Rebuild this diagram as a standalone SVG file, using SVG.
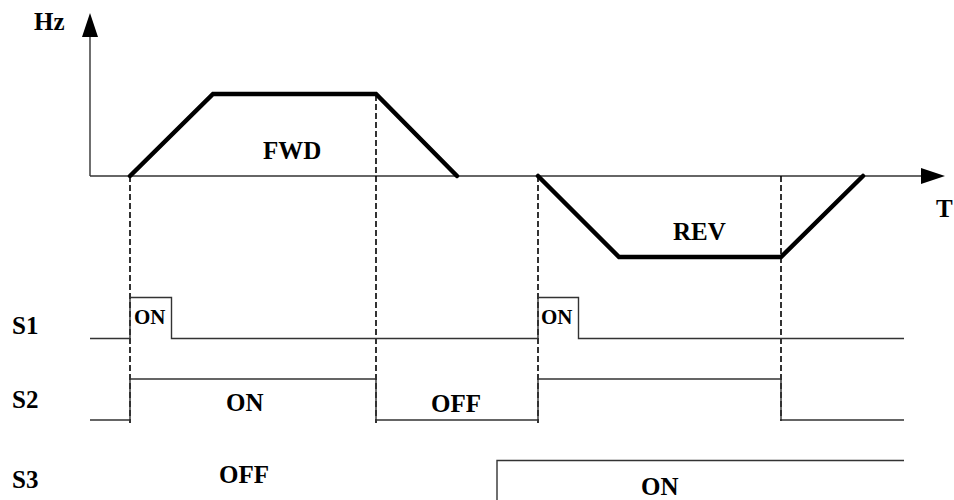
<svg xmlns="http://www.w3.org/2000/svg" width="954" height="500" viewBox="0 0 954 500">
<style>
text{font-family:"Liberation Serif","Times New Roman",serif;font-weight:bold;fill:#000}
.lbl{font-size:25px}
.sm{font-size:21px}
.axis{stroke:#333;stroke-width:1.4;fill:none}
.sig{stroke:#333;stroke-width:1.4;fill:none}
.curve{stroke:#000;stroke-width:4.5;fill:none;stroke-linejoin:miter;stroke-linecap:round}
.dash{stroke:#000;stroke-width:1.6;fill:none;stroke-dasharray:6,3}
.head{fill:#000}
</style>
<rect width="954" height="500" fill="#fff"/>
<g id="axes">
<line class="axis" x1="90" y1="176" x2="90" y2="30"/>
<polygon class="head" points="90,13 82,37 98,37"/>
<line class="axis" x1="90" y1="176" x2="928" y2="176"/>
<polygon class="head" points="945,176 921,168 921,184"/>
<text class="lbl" x="34" y="30">Hz</text>
<text class="lbl" x="936" y="217">T</text>
</g>
<g id="connectors">
<line class="dash" x1="130" y1="176" x2="130" y2="423"/>
<line class="dash" x1="376" y1="95" x2="376" y2="423"/>
<line class="dash" x1="538" y1="176" x2="538" y2="423"/>
<line class="dash" x1="781" y1="176" x2="781" y2="421"/>
</g>
<g id="fwd">
<polyline class="curve" points="130,176 213,94 376,94 457,176"/>
<text class="lbl" x="263" y="159">FWD</text>
</g>
<g id="rev">
<polyline class="curve" points="538,176 619,257 781,257 863,176"/>
<text class="lbl" x="673" y="240">REV</text>
</g>
<g id="s1">
<text class="lbl" x="12" y="334">S1</text>
<polyline class="sig" points="90,338.5 130,338.5 130,297.5 171.5,297.5 171.5,338.5 538,338.5 538,297.5 578.5,297.5 578.5,338.5 904,338.5"/>
<text class="sm" x="134" y="324">ON</text>
<text class="sm" x="541" y="324">ON</text>
</g>
<g id="s2">
<text class="lbl" x="12" y="408">S2</text>
<polyline class="sig" points="90,420 130,420 130,379 376,379 376,420 538,420 538,379 781,379 781,420 904,420"/>
<text class="lbl" x="226" y="411">ON</text>
<text class="lbl" x="431" y="412">OFF</text>
</g>
<g id="s3">
<text class="lbl" x="12" y="488">S3</text>
<polyline class="sig" points="497,500 497,460.5 904,460.5"/>
<text class="lbl" x="219" y="483">OFF</text>
<text class="lbl" x="641" y="495">ON</text>
</g>
</svg>
